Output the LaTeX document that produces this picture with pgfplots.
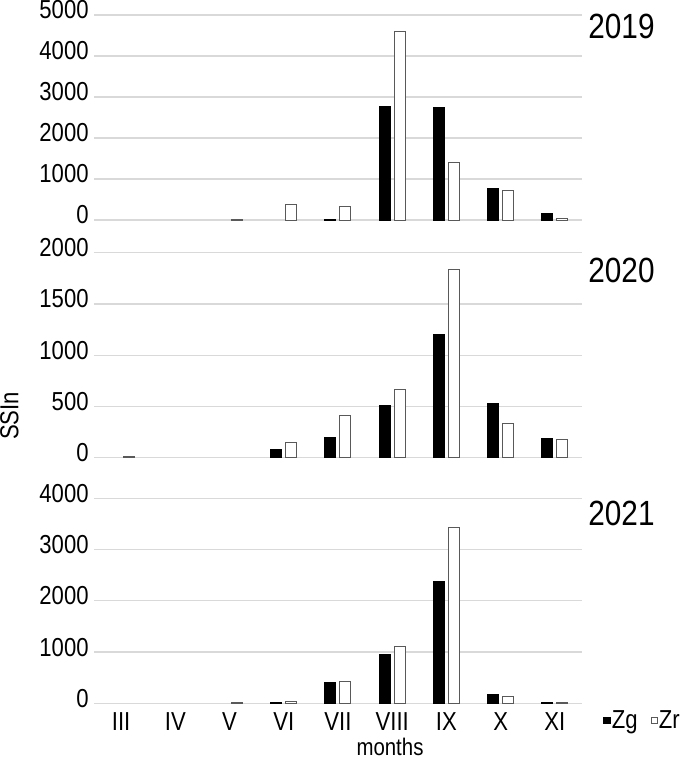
\documentclass[border=0pt]{standalone}
\usepackage{fontspec}
\setmainfont{Liberation Sans}[FakeStretch=0.85]
\usepackage{pgfplots}
\pgfplotsset{compat=1.18}
\definecolor{gridgray}{HTML}{D9D9D9}
\definecolor{edgegray}{HTML}{595959}

\pgfplotsset{
  panel/.style={
    scale only axis, width=244pt, height=102.5pt,
    anchor=south west,
    xmin=-0.5, xmax=8.5, ymin=0,
    ybar=2pt, bar width=5.5pt,
    axis line style={draw=none},
    major tick length=0pt,
    xtick=\empty,
    ymajorgrids, grid style={gridgray, line width=0.6pt},
    yticklabel style={font=\fontsize{13}{15}\selectfont, anchor=east, inner sep=0pt, xshift=-2.5pt, yshift=2.5pt},
    /pgf/number format/1000 sep={},
    /pgf/number format/assume math mode=true,
    clip=false,
  },
  zg/.style={fill=black, draw=black, line width=0.5pt},
  zr/.style={fill=white, draw=edgegray, line width=0.5pt},
}
\tikzset{year/.style={anchor=north west, inner sep=0pt, font=\fontsize{17.5}{20}\selectfont}}

\begin{document}
\begin{tikzpicture}
\useasboundingbox (0,0) rectangle (342.5pt,-378.5pt);

% 2019
\begin{axis}[panel, at={(47pt,-110pt)}, ymax=5000, ytick={0,1000,...,5000}]
\addplot[zg] coordinates {(4,20)(5,2780)(6,2740)(7,760)(8,150)};
\addplot[zr] coordinates {(2,20)(3,370)(4,340)(5,4600)(6,1410)(7,710)(8,30)};
\node[year, xshift=3pt, yshift=0.7pt] at (rel axis cs:1,1) {2019};
\end{axis}

% 2020
\begin{axis}[panel, at={(47pt,-228.85pt)}, ymax=2000, ytick={0,500,...,2000}]
\addplot[zg] coordinates {(3,80)(4,200)(5,510)(6,1200)(7,525)(8,185)};
\addplot[zr] coordinates {(0,10)(3,150)(4,410)(5,665)(6,1840)(7,330)(8,175)};
\node[year, xshift=3pt, yshift=-2.5pt] at (rel axis cs:1,1) {2020};
\node[xshift=-42.25pt, rotate=90, inner sep=0pt, font=\fontsize{13}{15}\selectfont] at (rel axis cs:0,0.204) {SSIn};
\end{axis}

% 2021
\begin{axis}[panel, at={(47pt,-351.65pt)}, ymax=4000, ytick={0,1000,...,4000},
  xtick={0,...,8}, xticklabels={III,IV,V,VI,VII,VIII,IX,X,XI},
  xticklabel style={font=\fontsize{13}{15}\selectfont, anchor=north, inner sep=0pt, yshift=-4.3pt},
  legend image code/.code={\draw[#1] (0pt,-1.2pt) rectangle (3.2pt,2pt);},
  legend columns=2,
  legend style={at={(rel axis cs:1,0)}, anchor=west, xshift=10.5pt, yshift=-8.85pt,
    draw=none, fill=none, inner sep=0pt, font=\fontsize{13}{15}\selectfont,
    nodes={inner sep=0.5pt},
    /tikz/every even column/.append style={column sep=6pt}},
]
\addplot[zg] coordinates {(3,15)(4,410)(5,955)(6,2380)(7,163)(8,15)};
\addplot[zr] coordinates {(2,15)(3,35)(4,430)(5,1110)(6,3430)(7,137)(8,15)};
\legend{Zg,Zr}
\node[year, xshift=3pt, yshift=-1pt] at (rel axis cs:1,1) {2021};
\node[anchor=base, inner sep=0pt, font=\fontsize{12}{14}\selectfont, yshift=-25.9pt] at (rel axis cs:0.6066,0) {months};
\end{axis}
\end{tikzpicture}
\end{document}
